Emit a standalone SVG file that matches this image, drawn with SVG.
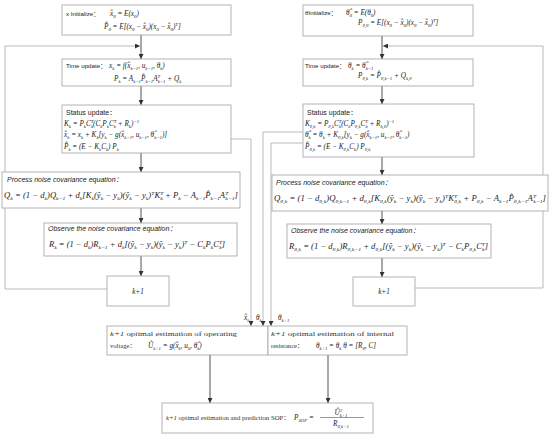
<svg xmlns="http://www.w3.org/2000/svg" width="550" height="437" viewBox="0 0 550 437">
<defs>
<marker id="ah" viewBox="0 0 10 10" refX="10" refY="5" markerWidth="5" markerHeight="5" markerUnits="userSpaceOnUse" orient="auto"><path d="M0,0 L10,5 L0,10 z" fill="#333"/></marker>
<style>
.box{fill:#fff;stroke:#a0a0a0;stroke-width:0.8}
.flow{fill:none;stroke:#505050;stroke-width:1}
.fb{fill:none;stroke:#a8a8a8;stroke-width:0.8}
.lb{font-family:"Liberation Sans","Noto Sans CJK SC",sans-serif;font-size:7px;font-style:normal;fill:#222}
.ls{font-family:"Liberation Sans","Noto Sans CJK SC",sans-serif;font-size:6.2px;font-style:normal;fill:#222}
.it{font-style:italic}
.m{font-family:"Liberation Serif","Noto Sans CJK SC",serif;font-style:italic;font-size:7.2px;fill:#222}
.ss{font-family:"Liberation Serif","Noto Sans CJK SC",serif;font-size:6.6px;fill:#333}
.sb{font-size:4.8px;baseline-shift:-1.8px}
.sp{font-size:4.8px;baseline-shift:3px}
.c{text-anchor:middle}
</style>
</defs>

<g id="connectors">
<path class="flow" d="M141,35 V59" marker-end="url(#ah)"/>
<path class="flow" d="M141,86 V105" marker-end="url(#ah)"/>
<path class="flow" d="M141,153 V172" marker-end="url(#ah)"/>
<path class="flow" d="M141,208 V223" marker-end="url(#ah)"/>
<path class="flow" d="M141,256 V276" marker-end="url(#ah)"/>
<path class="fb" d="M107,289 H5 V46 H140" marker-end="url(#ah)"/>
<path class="flow" d="M382,36 V59" marker-end="url(#ah)"/>
<path class="flow" d="M382,86 V104" marker-end="url(#ah)"/>
<path class="flow" d="M382,157 V175" marker-end="url(#ah)"/>
<path class="flow" d="M382,211 V224" marker-end="url(#ah)"/>
<path class="flow" d="M382,258 V277" marker-end="url(#ah)"/>
<path class="fb" d="M415,288 H543 V46 H383" marker-end="url(#ah)"/>
<path class="fb" d="M231,139 H251 V326" marker-end="url(#ah)"/>
<path class="fb" d="M303,132 H263 V326" marker-end="url(#ah)"/>
<path class="fb" d="M303,143 H271 V326" marker-end="url(#ah)"/>
<path class="flow" d="M210,355 V403" marker-end="url(#ah)"/>
<path class="flow" d="M328,355 V403" marker-end="url(#ah)"/>
<text class="m" x="244" y="320" font-size="6.5">x̂<tspan class="sb">k</tspan></text>
<text class="m" x="256" y="320" font-size="6.5">θ<tspan class="sb">k</tspan></text>
<text class="m" x="278" y="320" font-size="6.5">θ<tspan class="sb">k+1</tspan></text>
</g>

<g id="x-init">
<rect class="box" x="62" y="5" width="169" height="30"/>
<text class="m" y="16"><tspan class="ls" x="66">x Initialize：</tspan><tspan x="110">x̂</tspan><tspan class="sb">0</tspan> = E(x<tspan class="sb">0</tspan>)</text>
<text class="m" x="104" y="29">P̂<tspan class="sb">0</tspan> = E[(x<tspan class="sb">0</tspan> − x̂<tspan class="sb">0</tspan>)(x<tspan class="sb">0</tspan> − x̂<tspan class="sb">0</tspan>)<tspan class="sp">T</tspan>]</text>
</g>

<g id="x-time">
<rect class="box" x="62" y="59" width="169" height="27"/>
<text class="m" y="68"><tspan class="ls" x="66">Time  update：</tspan><tspan x="109">x</tspan><tspan class="sb">k</tspan> = f(x̂<tspan class="sb">k−1</tspan>, u<tspan class="sb">k−1</tspan>, θ<tspan class="sb">k</tspan>)</text>
<text class="m" x="114" y="81">P<tspan class="sb">k</tspan> = A<tspan class="sb">k−1</tspan>P̂<tspan class="sb">k−1</tspan>A<tspan class="sp">T</tspan><tspan class="sb" dx="-2.5">k−1</tspan> + Q<tspan class="sb">k</tspan></text>
</g>

<g id="x-status">
<rect class="box" x="62" y="105" width="169" height="48"/>
<text class="lb" x="66" y="115">Status update：</text>
<text class="m" x="64" y="126">K<tspan class="sb">k</tspan> = P<tspan class="sb">k</tspan>C<tspan class="sp">T</tspan><tspan class="sb" dx="-2.5">k</tspan>(C<tspan class="sb">k</tspan>P<tspan class="sb">k</tspan>C<tspan class="sp">T</tspan><tspan class="sb" dx="-2.5">k</tspan> + R<tspan class="sb">k</tspan>)<tspan class="sp">−1</tspan></text>
<text class="m" x="64" y="137">x̂<tspan class="sb">k</tspan> = x<tspan class="sb">k</tspan> + K<tspan class="sb">k</tspan>[y<tspan class="sb">k</tspan> − g(x̂<tspan class="sb">k−1</tspan>, u<tspan class="sb">k−1</tspan>, θ̂<tspan class="sb">k−1</tspan>)]</text>
<text class="m" x="64" y="149">P̂<tspan class="sb">k</tspan> = (E − K<tspan class="sb">k</tspan>C<tspan class="sb">k</tspan>) P<tspan class="sb">k</tspan></text>
</g>

<g id="x-process">
<rect class="box" x="2" y="172" width="238" height="36"/>
<text class="lb it" x="7" y="182">Process noise covariance equation：</text>
<text class="m" x="4" y="198" textLength="234" lengthAdjust="spacingAndGlyphs">Q<tspan class="sb">k</tspan> = (1 − d<tspan class="sb">k</tspan>)Q<tspan class="sb">k−1</tspan> + d<tspan class="sb">k</tspan>[K<tspan class="sb">k</tspan>(ŷ<tspan class="sb">k</tspan> − y<tspan class="sb">k</tspan>)(ŷ<tspan class="sb">k</tspan> − y<tspan class="sb">k</tspan>)<tspan class="sp">T</tspan>K<tspan class="sp">T</tspan><tspan class="sb" dx="-2.5">k</tspan> + P<tspan class="sb">k</tspan> − A<tspan class="sb">k−1</tspan>P̂<tspan class="sb">k−1</tspan>A<tspan class="sp">T</tspan><tspan class="sb" dx="-2.5">k−1</tspan>]</text>
</g>

<g id="x-observe">
<rect class="box" x="44" y="223" width="193" height="33"/>
<text class="lb it" x="48" y="231">Observe the noise covariance equation：</text>
<text class="m" x="49" y="247" textLength="176" lengthAdjust="spacingAndGlyphs">R<tspan class="sb">k</tspan> = (1 − d<tspan class="sb">k</tspan>)R<tspan class="sb">k−1</tspan> + d<tspan class="sb">k</tspan>[(ŷ<tspan class="sb">k</tspan> − y<tspan class="sb">k</tspan>)(ŷ<tspan class="sb">k</tspan> − y<tspan class="sb">k</tspan>)<tspan class="sp">T</tspan> − C<tspan class="sb">k</tspan>P<tspan class="sb">k</tspan>C<tspan class="sp">T</tspan><tspan class="sb" dx="-2.5">k</tspan>]</text>
</g>

<g id="x-k1">
<rect class="box" x="107" y="276" width="62" height="30"/>
<text class="m c" x="138" y="294" font-size="6.5">k+1</text>
</g>

<g id="t-init">
<rect class="box" x="303" y="5" width="170" height="31"/>
<text class="m" y="15"><tspan class="ls" x="305">θInitialize：</tspan><tspan x="346">θ̂</tspan><tspan class="sb">0</tspan> = E(θ<tspan class="sb">0</tspan>)</text>
<text class="m" x="358" y="25">P<tspan class="sb">θ,0</tspan> = E[(x<tspan class="sb">0</tspan> − x̂<tspan class="sb">0</tspan>)(x<tspan class="sb">0</tspan> − x̂<tspan class="sb">0</tspan>)<tspan class="sp">T</tspan>]</text>
</g>

<g id="t-time">
<rect class="box" x="303" y="59" width="170" height="27"/>
<text class="m" y="68"><tspan class="ls" x="305">Time  update：</tspan><tspan x="348">θ</tspan><tspan class="sb">k</tspan> = θ̂<tspan class="sb">k−1</tspan></text>
<text class="m" x="358" y="78">P<tspan class="sb">θ,k</tspan> = P̂<tspan class="sb">θ,k−1</tspan> + Q<tspan class="sb">k,θ</tspan></text>
</g>

<g id="t-status">
<rect class="box" x="303" y="104" width="171" height="53"/>
<text class="lb" x="307" y="115">Status update：</text>
<text class="m" x="305" y="126">K<tspan class="sb">θ,k</tspan> = P<tspan class="sb">θ,k</tspan>C<tspan class="sp">T</tspan><tspan class="sb" dx="-2.5">k</tspan>(C<tspan class="sb">k</tspan>P<tspan class="sb">θ,k</tspan>C<tspan class="sp">T</tspan><tspan class="sb" dx="-2.5">k</tspan> + R<tspan class="sb">k,θ</tspan>)<tspan class="sp">−1</tspan></text>
<text class="m" x="305" y="137">θ̂<tspan class="sb">k</tspan> = θ<tspan class="sb">k</tspan> + K<tspan class="sb">θ,k</tspan>[y<tspan class="sb">k</tspan> − g(x̂<tspan class="sb">k−1</tspan>, u<tspan class="sb">k−1</tspan>, θ̂<tspan class="sb">k−1</tspan>)</text>
<text class="m" x="305" y="149">P̂<tspan class="sb">θ,k</tspan> = (E − K<tspan class="sb">θ,k</tspan>C<tspan class="sb">k</tspan>) P<tspan class="sb">θ,k</tspan></text>
</g>

<g id="t-process">
<rect class="box" x="272" y="175" width="276" height="36"/>
<text class="lb it" x="276" y="185">Process noise covariance equation：</text>
<text class="m" x="274" y="201" textLength="272" lengthAdjust="spacingAndGlyphs">Q<tspan class="sb">θ,k</tspan> = (1 − d<tspan class="sb">θ,k</tspan>)Q<tspan class="sb">θ,k−1</tspan> + d<tspan class="sb">θ,k</tspan>[K<tspan class="sb">θ,k</tspan>(ŷ<tspan class="sb">k</tspan> − y<tspan class="sb">k</tspan>)(ŷ<tspan class="sb">k</tspan> − y<tspan class="sb">k</tspan>)<tspan class="sp">T</tspan>K<tspan class="sp">T</tspan><tspan class="sb" dx="-2.5">θ,k</tspan> + P<tspan class="sb">θ,k</tspan> − A<tspan class="sb">k−1</tspan>P̂<tspan class="sb">θ,k−1</tspan>A<tspan class="sp">T</tspan><tspan class="sb" dx="-2.5">k−1</tspan>]</text>
</g>

<g id="t-observe">
<rect class="box" x="287" y="224" width="204" height="34"/>
<text class="lb it" x="291" y="233">Observe the noise covariance equation：</text>
<text class="m" x="289" y="249" textLength="199" lengthAdjust="spacingAndGlyphs">R<tspan class="sb">θ,k</tspan> = (1 − d<tspan class="sb">θ,k</tspan>)R<tspan class="sb">θ,k−1</tspan> + d<tspan class="sb">θ,k</tspan>[(ŷ<tspan class="sb">k</tspan> − y<tspan class="sb">k</tspan>)(ŷ<tspan class="sb">k</tspan> − y<tspan class="sb">k</tspan>)<tspan class="sp">T</tspan> − C<tspan class="sb">k</tspan>P<tspan class="sb">θ,k</tspan>C<tspan class="sp">T</tspan><tspan class="sb" dx="-2.5">k</tspan>]</text>
</g>

<g id="t-k1">
<rect class="box" x="353" y="277" width="62" height="29"/>
<text class="m c" x="384" y="294" font-size="6.5">k+1</text>
</g>

<g id="voltage">
<rect class="box" x="107" y="326" width="161" height="29"/>
<text class="ss" x="110" y="336" textLength="127" lengthAdjust="spacingAndGlyphs"><tspan class="it">k+1</tspan> optimal estimation of operating</text>
<text class="ss" x="110" y="348">voltage：</text>
<text class="m" x="148" y="348" font-size="8">Û<tspan class="sb">k+1</tspan> = g(x̂<tspan class="sb">k</tspan>, u<tspan class="sb">k</tspan>, θ̂<tspan class="sb">k</tspan>)</text>
</g>

<g id="resistance">
<rect class="box" x="268" y="326" width="139" height="29"/>
<text class="ss" x="271" y="336" textLength="123" lengthAdjust="spacingAndGlyphs"><tspan class="it">k+1</tspan> optimal estimation of internal</text>
<text class="ss" x="271" y="348">resistance：</text>
<text class="m" x="316" y="348">θ<tspan class="sb">k+1</tspan> = θ<tspan class="sb">k</tspan>   θ = [R<tspan class="sb">0</tspan>, C]</text>
</g>

<g id="sop">
<rect class="box" x="162" y="403" width="211" height="30"/>
<text class="ss" x="166" y="420" textLength="124" lengthAdjust="spacingAndGlyphs"><tspan class="it">k+1</tspan> optimal estimation and prediction SOP：</text>
<text class="m" x="294" y="420">P<tspan class="sb">SOP</tspan> =</text>
<text class="m c" x="341" y="415">Û<tspan class="sp">2</tspan><tspan class="sb" dx="-2.5">k+1</tspan></text>
<line x1="320" y1="417.5" x2="364" y2="417.5" stroke="#333" stroke-width="0.5"/>
<text class="m c" x="341" y="426">R<tspan class="sb">0,k+1</tspan></text>
</g>
</svg>
